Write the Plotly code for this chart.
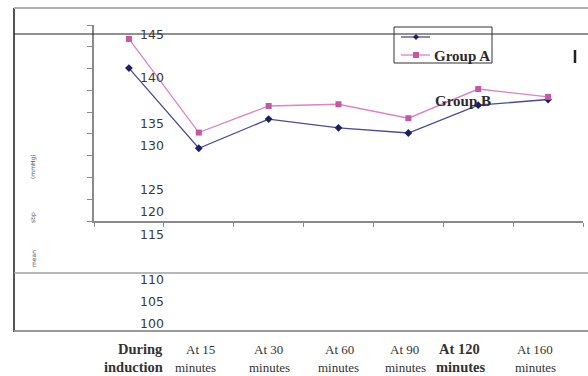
import plotly.graph_objects as go

# ---------------- data ----------------
categories = ["During induction", "At 15 minutes", "At 30 minutes", "At 60 minutes",
              "At 90 minutes", "At 120 minutes", "At 160 minutes"]
group_a = [141.8, 120.3, 126.4, 126.8, 123.6, 130.3, 128.5]
group_b = [135.1, 116.7, 123.4, 121.4, 120.2, 126.6, 127.9]
tick_line1 = ["During", "At 15", "At 30", "At 60", "At 90", "At 120", "At 160"]
tick_line2 = ["induction", "minutes", "minutes", "minutes", "minutes", "minutes", "minutes"]
y_tick_labels = ["145", "140", "135", "130", "125", "120", "115", "110", "105", "100"]
y_title_parts = ["(mmHg)", "sbp", "mean"]

W, H = 588, 376


def px(x):
    return x / W


def py(y):
    return 1 - y / H


fig = go.Figure()
fig.add_trace(go.Scatter(
    x=categories, y=group_b, mode="lines+markers", name="Group B",
    line=dict(color="#4a4a98", width=1.3),
    marker=dict(symbol="diamond", size=6, color="#1e1e62"),
    showlegend=False))
fig.add_trace(go.Scatter(
    x=categories, y=group_a, mode="lines+markers", name="Group A",
    line=dict(color="#dd82c2", width=1.3),
    marker=dict(symbol="square", size=6, color="#c658a2"),
    showlegend=False))

shapes = []


def line(x0, y0, x1, y1, color, width):
    shapes.append(dict(type="line", xref="paper", yref="paper",
                       x0=px(x0), y0=py(y0), x1=px(x1), y1=py(y1),
                       line=dict(color=color, width=width)))


# outer frame
line(14, 8, 14, 332, "#555555", 2)
line(14, 8, 588, 8, "#b0b0b0", 2)
line(14, 331, 588, 331, "#999999", 2)
# stray horizontal lines
line(14, 34, 588, 34, "#222222", 1)
line(14, 273, 588, 273, "#a0a0a0", 1.5)
# "I" mark
line(575, 50, 575, 63, "#222222", 2.5)

# manual legend
shapes.append(dict(type="rect", xref="paper", yref="paper",
                   x0=px(394), y0=py(27), x1=px(492), y1=py(63),
                   line=dict(color="#333333", width=1)))
line(401, 37, 430, 37, "#4a4a98", 1.3)
line(401, 55, 430, 55, "#dd82c2", 1.3)
cx, cy = 416, 37
shapes.append(dict(type="path", xref="paper", yref="paper",
                   path=f"M {px(cx)},{py(cy-3)} L {px(cx+3)},{py(cy)} L {px(cx)},{py(cy+3)} L {px(cx-3)},{py(cy)} Z",
                   fillcolor="#1e1e62", line=dict(color="#1e1e62", width=0)))
shapes.append(dict(type="rect", xref="paper", yref="paper",
                   x0=px(413), y0=py(52), x1=px(419), y1=py(58),
                   fillcolor="#c658a2", line=dict(width=0)))

annotations = []
serif = "Liberation Serif"

annotations.append(dict(text="<b>Group A</b>", xref="paper", yref="paper",
                        x=px(432), y=py(56), xanchor="left", yanchor="middle",
                        showarrow=False, font=dict(family=serif, size=15, color="#2a2a2a")))
annotations.append(dict(text="<b>Group B</b>", xref="paper", yref="paper",
                        x=px(433), y=py(101), xanchor="left", yanchor="middle",
                        showarrow=False, font=dict(family=serif, size=15, color="#2a2a2a")))

# scattered y tick labels
y_label_pos = [34.5, 78, 123, 145.5, 189.5, 211.5, 234.5, 279.5, 301.5, 323.5]
for lab, yy in zip(y_tick_labels, y_label_pos):
    annotations.append(dict(text=lab, xref="paper", yref="paper",
                            x=px(152), y=py(yy), xanchor="center", yanchor="middle",
                            showarrow=False,
                            font=dict(family="DejaVu Sans", size=12.5, color="#3a3a3a")))

# y title fragments (tiny, rotated)
for part, yy in zip(y_title_parts, [167, 218, 259]):
    annotations.append(dict(text=part, xref="paper", yref="paper",
                            x=px(33), y=py(yy), xanchor="center", yanchor="middle",
                            textangle=-90, showarrow=False,
                            font=dict(family="DejaVu Sans", size=6, color="#555")))

# x tick labels (two lines)
line1_style = [
    dict(anchor="right", xo=165, size=14.5, bold=True),
    dict(xo=200, size=13), dict(xo=268, size=13), dict(xo=339, size=13),
    dict(xo=404, size=13), dict(xo=459, size=14.5, bold=True), dict(xo=535, size=13),
]
line2_pos = [165, 195, 269, 338, 405, 461, 535]
for i, cat in enumerate(categories):
    st = line1_style[i]
    anchor = st.get("anchor", "center")
    t1 = f"<b>{tick_line1[i]}</b>" if st.get("bold") else tick_line1[i]
    t2 = f"<b>{tick_line2[i]}</b>" if st.get("bold") else tick_line2[i]
    annotations.append(dict(text=t1, xref="paper", yref="paper",
                            x=px(st["xo"]), y=py(349), xanchor=anchor, yanchor="middle",
                            showarrow=False,
                            font=dict(family=serif, size=st["size"], color="#333")))
    annotations.append(dict(text=t2, xref="paper", yref="paper",
                            x=px(line2_pos[i]), y=py(367), xanchor=anchor, yanchor="middle",
                            showarrow=False,
                            font=dict(family=serif, size=st["size"], color="#333")))

fig.update_layout(
    width=W, height=H,
    margin=dict(l=0, r=0, t=0, b=0),
    paper_bgcolor="white", plot_bgcolor="white",
    shapes=shapes, annotations=annotations,
    xaxis=dict(domain=[px(94), px(583)], type="category", range=[-0.5, 6.5],
               showline=True, linecolor="#8a8a8a", linewidth=1.5,
               ticks="outside", tickson="boundaries", ticklen=4, tickcolor="#8a8a8a",
               showticklabels=False, showgrid=False, zeroline=False),
    yaxis=dict(domain=[py(221), py(25)], range=[100, 145],
               tickvals=[100, 105, 110, 115, 120, 125, 130, 135, 140, 145],
               showline=True, linecolor="#8a8a8a", linewidth=1.5,
               ticks="outside", ticklen=5, tickcolor="#8a8a8a",
               showticklabels=False, showgrid=False, zeroline=False),
)

fig.write_html("out.html",
               config={"displayModeBar": False},
               post_script="document.body.style.margin='0';document.body.style.overflow='hidden';")
